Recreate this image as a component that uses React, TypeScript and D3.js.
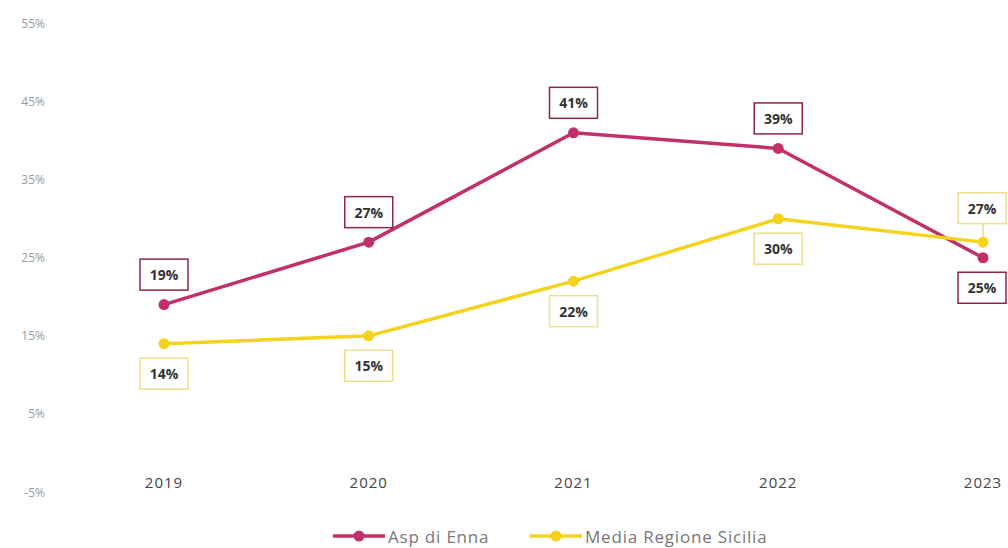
import React from "react";
import * as d3 from "d3";

const years = ["2019", "2020", "2021", "2022", "2023"];
const aspEnna = [19, 27, 41, 39, 25];
const mediaSicilia = [14, 15, 22, 30, 27];
const yTicks = [-5, 5, 15, 25, 35, 45, 55];
// label placement: -1 above, +1 below
const aspLabelPos = [-1, -1, -1, -1, 1];
const mediaLabelPos = [1, 1, 1, 1, -1];

const W = 1008;
const H = 548;
const PINK = "#c2306a";
const PINK_BORDER = "#8e2452";
const YELLOW = "#f5d21c";
const YELLOW_BORDER = "#eedf8a";

export default function App() {
  const x = d3.scalePoint<string>().domain(years).range([164, 983]);
  const y = d3.scaleLinear().domain([-5, 55]).range([492, 23.5]);
  const line = d3
    .line<number>()
    .x((_, i) => x(years[i]) as number)
    .y((d) => y(d));

  const series = [
    { name: "Asp di Enna", data: aspEnna, color: PINK, border: PINK_BORDER, pos: aspLabelPos },
    { name: "Media Regione Sicilia", data: mediaSicilia, color: YELLOW, border: YELLOW_BORDER, pos: mediaLabelPos },
  ];

  const boxW = 48;
  const boxH = 31;
  const off = 30;
  const legY = 536;

  return (
    <svg
      width={W}
      height={H}
      style={{ position: "absolute", left: 0, top: 0, background: "#fff" }}
      fontFamily="'Open Sans', 'DejaVu Sans', sans-serif"
    >
      {yTicks.map((t) => (
        <text key={t} x={45} y={y(t)} textAnchor="end" dominantBaseline="central" fontSize={12} fill="#9a9a9a">
          {t}%
        </text>
      ))}
      {years.map((yr) => (
        <text key={yr} x={x(yr)} y={482} textAnchor="middle" dominantBaseline="central" fontSize={15} fill="#444" letterSpacing={1}>
          {yr}
        </text>
      ))}
      {series.map((s) => (
        <g key={s.name}>
          <path d={line(s.data) || ""} fill="none" stroke={s.color} strokeWidth={3.5} strokeLinejoin="round" />
          {s.data.map((v, i) => (
            <circle key={i} cx={x(years[i])} cy={y(v)} r={5.5} fill={s.color} />
          ))}
        </g>
      ))}
      {series.map((s) => (
        <g key={s.name + "-labels"}>
          {s.data.map((v, i) => {
            const cx = x(years[i]) as number;
            const cy = y(v) + s.pos[i] * (off + (s.name !== "Asp di Enna" && s.pos[i] < 0 ? 4 : 0));
            const bx = Math.min(cx - boxW / 2, W - boxW - 2);
            return (
              <g key={i}>
                {s.name !== "Asp di Enna" && s.pos[i] < 0 && (
                  <line x1={cx} x2={cx} y1={cy + boxH / 2} y2={y(v) - 5} stroke={YELLOW_BORDER} strokeWidth={1.5} />
                )}
                <rect x={bx} y={cy - boxH / 2} width={boxW} height={boxH} fill="#fff" stroke={s.border} strokeWidth={1.5} />
                <text x={bx + boxW / 2} y={cy} textAnchor="middle" dominantBaseline="central" fontSize={14} fontWeight={700} fill="#333">
                  {v}%
                </text>
              </g>
            );
          })}
        </g>
      ))}
      {/* legend */}
      {series.map((s, i) => {
        const lx = i === 0 ? 333 : 530;
        return (
          <g key={s.name + "-leg"}>
            <line x1={lx} x2={lx + 52} y1={legY} y2={legY} stroke={s.color} strokeWidth={3.5} />
            <circle cx={lx + 26} cy={legY} r={5.5} fill={s.color} />
            <text x={lx + 55} y={legY} dominantBaseline="central" fontSize={17} fill="#777" letterSpacing={0.8}>
              {s.name}
            </text>
          </g>
        );
      })}
    </svg>
  );
}
